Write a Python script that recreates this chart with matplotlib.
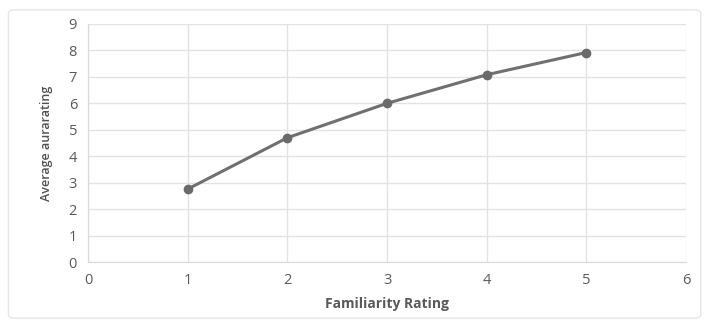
import matplotlib
matplotlib.use("Agg")
import matplotlib.pyplot as plt
from matplotlib.patches import FancyBboxPatch

familiarity = [1, 2, 3, 4, 5]
aura_rating = [2.76, 4.7, 6.0, 7.08, 7.92]
x_ticks = [0, 1, 2, 3, 4, 5, 6]
y_ticks = [0, 1, 2, 3, 4, 5, 6, 7, 8, 9]

text_col = "#595959"
grid_col = "#e3e3e3"

fig = plt.figure(figsize=(7.05, 3.28), dpi=100)
ax = fig.add_axes([0.125, 0.201, 0.848, 0.726])

# outer chart frame
frame = FancyBboxPatch((0.012, 0.03), 0.982, 0.94, boxstyle="round,pad=0,rounding_size=0.01",
                       transform=fig.transFigure, fill=False, edgecolor="#e6e6e6", linewidth=1.0)
fig.patches.append(frame)

ax.plot(familiarity, aura_rating, color="#707070", linewidth=2.2,
        marker="o", markersize=6, markerfacecolor="#6a6a6a", markeredgecolor="#6a6a6a", zorder=3)

ax.set_xlim(0, 6)
ax.set_ylim(0, 9)
ax.set_xticks(x_ticks)
ax.set_yticks(y_ticks)
ax.grid(True, color=grid_col, linewidth=1.0)
ax.set_axisbelow(True)
for side in ["top", "right"]:
    ax.spines[side].set_visible(False)
for side in ["left", "bottom"]:
    ax.spines[side].set_color("#d9d9d9")
ax.tick_params(length=0, colors=text_col, labelsize=10.5, pad=8)
for lab in ax.get_xticklabels() + ax.get_yticklabels():
    lab.set_family(["Open Sans", "DejaVu Sans"])

ax.set_xlabel("Familiarity Rating", color=text_col, fontsize=10, fontweight="bold",
              family=["Open Sans", "DejaVu Sans"], labelpad=6)
ax.set_ylabel("Average aurarating", color="#505050", fontsize=9, fontweight="semibold",
              family=["Open Sans", "DejaVu Sans"], labelpad=11)

fig.savefig("out.png", dpi=100)
